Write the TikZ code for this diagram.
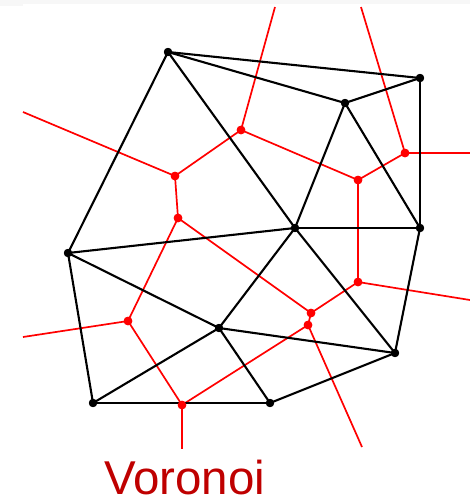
\documentclass[tikz,border=0pt]{standalone}
\usepackage{fontspec}
\setmainfont{Liberation Sans}
\begin{document}
\begin{tikzpicture}[x=1pt,y=-1pt,
  blk/.style={draw=black,line width=2.1pt},
  vedge/.style={draw=red,line width=1.7pt},
  bdot/.style={circle,fill=black,inner sep=0pt,minimum size=8pt},
  rdot/.style={circle,fill=red,inner sep=0pt,minimum size=8.5pt}]
\useasboundingbox (0,0) rectangle (470,501);
\fill[black!3] (0,0) rectangle (470,4);
\fill[black!3] (0,0) rectangle (23,6);
% black sites
\node[bdot] (A) at (168,52) {};
\node[bdot] (B) at (420,78) {};
\node[bdot] (C) at (345,103) {};
\node[bdot] (D) at (295,228) {};
\node[bdot] (E) at (420,228) {};
\node[bdot] (F) at (68,253) {};
\node[bdot] (G) at (219,328) {};
\node[bdot] (H) at (395,353) {};
\node[bdot] (I) at (93,403) {};
\node[bdot] (J) at (270,403) {};
% red vertices
\node[rdot] (r1) at (241,130) {};
\node[rdot] (r2) at (175,176) {};
\node[rdot] (r3) at (178,218) {};
\node[rdot] (r4) at (358,180) {};
\node[rdot] (r5) at (405,153) {};
\node[rdot] (r6) at (358,282) {};
\node[rdot] (r7) at (311,313) {};
\node[rdot] (r8) at (308,325) {};
\node[rdot] (r9) at (128,321) {};
\node[rdot] (r10) at (182,405) {};
\coordinate (e1) at (275,7);
\coordinate (e2) at (23,112);
\coordinate (e3) at (361,7);
\coordinate (e4) at (470,153);
\coordinate (e5) at (470,300);
\coordinate (e6) at (362,447);
\coordinate (e7) at (23,337);
\coordinate (e8) at (182,449);
% red edges
\foreach \a/\b in {r1/e1,r1/r2,r1/r4,r2/e2,r2/r3,r4/r5,r4/r6,r5/e3,r5/e4,r3/r7,r3/r9,r6/r7,r6/e5,r7/r8,r8/r10,r8/e6,r9/e7,r9/r10,r10/e8}
  \draw[vedge] (\a.center) -- (\b.center);
% black edges
\foreach \a/\b in {A/B,A/C,C/B,A/F,A/D,C/D,C/E,B/E,D/E,F/D,F/G,F/I,D/G,D/H,E/H,G/H,G/I,G/J,I/J,J/H}
  \draw[blk] (\a.center) -- (\b.center);
% dots on top
\foreach \n in {A,B,C,D,E,F,G,H,I,J}
  \fill[black] (\n.center) circle (4.2pt);
\foreach \n in {r1,r2,r3,r4,r5,r6,r7,r8,r9,r10}
  \fill[red] (\n.center) circle (4.3pt);
\node[anchor=base west,inner sep=0pt,text=red!75!black,font=\fontsize{47.5}{50}\selectfont] (t) at (104,494) {Voronoi};
\end{tikzpicture}
\end{document}
